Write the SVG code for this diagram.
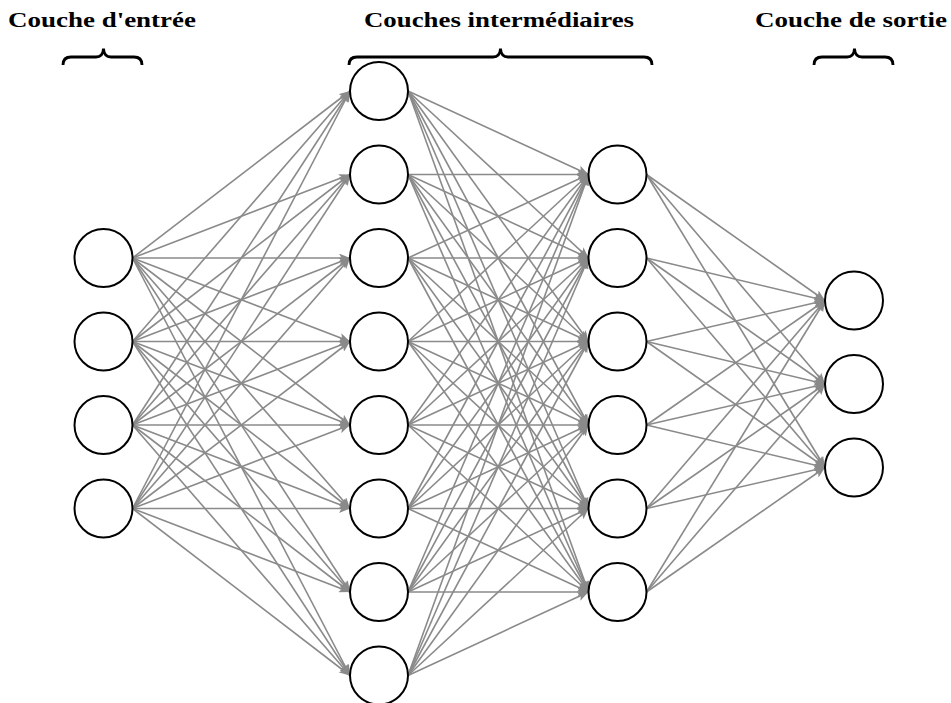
<svg xmlns="http://www.w3.org/2000/svg" width="951" height="703" viewBox="0 0 951 703">
<style>
.e{stroke:#8a8a8a;stroke-width:1.6;fill:none;marker-end:url(#ah)}
.n{fill:#fff;stroke:#000;stroke-width:2}
.b{fill:none;stroke:#000;stroke-width:2.8;stroke-linecap:butt}
.t{font-family:"Liberation Serif","DejaVu Serif",serif;font-weight:bold;font-size:20px;fill:#000}
</style>
<defs>
<marker id="ah" markerUnits="userSpaceOnUse" markerWidth="11" markerHeight="9" refX="11" refY="4.5" orient="auto">
<path d="M0,0 L11,4.5 L0,9 L2.5,4.5 z" fill="#8a8a8a"/>
</marker>
</defs>
<rect width="951" height="703" fill="#fff"/>
<g id="labels">
<text class="t" x="8" y="27" textLength="188" lengthAdjust="spacingAndGlyphs">Couche d'entrée</text>
<text class="t" x="364" y="27" textLength="270" lengthAdjust="spacingAndGlyphs">Couches intermédiaires</text>
<text class="t" x="755" y="27" textLength="192" lengthAdjust="spacingAndGlyphs">Couche de sortie</text>
</g>
<g id="braces">
<path class="b" d="M63,65 Q63,57 71,57 L96,57 Q103,57 103.5,48.5 Q104,57 111,57 L134,57 Q142,57 142,65"/>
<path class="b" d="M349,65 Q349,57 357,57 L493,57 Q500,57 500.5,48.5 Q501,57 508,57 L644,57 Q652,57 652,65"/>
<path class="b" d="M814,65 Q814,57 822,57 L847,57 Q854,57 854.5,48.5 Q855,57 862,57 L885,57 Q893,57 893,65"/>
</g>
<g id="connectors">
<line class="e" x1="132.5" y1="258" x2="350" y2="91"/>
<line class="e" x1="132.5" y1="258" x2="350" y2="174.5"/>
<line class="e" x1="132.5" y1="258" x2="350" y2="258"/>
<line class="e" x1="132.5" y1="258" x2="350" y2="341.5"/>
<line class="e" x1="132.5" y1="258" x2="350" y2="425"/>
<line class="e" x1="132.5" y1="258" x2="350" y2="508.5"/>
<line class="e" x1="132.5" y1="258" x2="350" y2="592"/>
<line class="e" x1="132.5" y1="258" x2="350" y2="675.5"/>
<line class="e" x1="132.5" y1="341.5" x2="350" y2="91"/>
<line class="e" x1="132.5" y1="341.5" x2="350" y2="174.5"/>
<line class="e" x1="132.5" y1="341.5" x2="350" y2="258"/>
<line class="e" x1="132.5" y1="341.5" x2="350" y2="341.5"/>
<line class="e" x1="132.5" y1="341.5" x2="350" y2="425"/>
<line class="e" x1="132.5" y1="341.5" x2="350" y2="508.5"/>
<line class="e" x1="132.5" y1="341.5" x2="350" y2="592"/>
<line class="e" x1="132.5" y1="341.5" x2="350" y2="675.5"/>
<line class="e" x1="132.5" y1="425" x2="350" y2="91"/>
<line class="e" x1="132.5" y1="425" x2="350" y2="174.5"/>
<line class="e" x1="132.5" y1="425" x2="350" y2="258"/>
<line class="e" x1="132.5" y1="425" x2="350" y2="341.5"/>
<line class="e" x1="132.5" y1="425" x2="350" y2="425"/>
<line class="e" x1="132.5" y1="425" x2="350" y2="508.5"/>
<line class="e" x1="132.5" y1="425" x2="350" y2="592"/>
<line class="e" x1="132.5" y1="425" x2="350" y2="675.5"/>
<line class="e" x1="132.5" y1="508.5" x2="350" y2="91"/>
<line class="e" x1="132.5" y1="508.5" x2="350" y2="174.5"/>
<line class="e" x1="132.5" y1="508.5" x2="350" y2="258"/>
<line class="e" x1="132.5" y1="508.5" x2="350" y2="341.5"/>
<line class="e" x1="132.5" y1="508.5" x2="350" y2="425"/>
<line class="e" x1="132.5" y1="508.5" x2="350" y2="508.5"/>
<line class="e" x1="132.5" y1="508.5" x2="350" y2="592"/>
<line class="e" x1="132.5" y1="508.5" x2="350" y2="675.5"/>

<line class="e" x1="408" y1="91" x2="588.5" y2="174.5"/>
<line class="e" x1="408" y1="91" x2="588.5" y2="258"/>
<line class="e" x1="408" y1="91" x2="588.5" y2="341.5"/>
<line class="e" x1="408" y1="91" x2="588.5" y2="425"/>
<line class="e" x1="408" y1="91" x2="588.5" y2="508.5"/>
<line class="e" x1="408" y1="91" x2="588.5" y2="592"/>
<line class="e" x1="408" y1="174.5" x2="588.5" y2="174.5"/>
<line class="e" x1="408" y1="174.5" x2="588.5" y2="258"/>
<line class="e" x1="408" y1="174.5" x2="588.5" y2="341.5"/>
<line class="e" x1="408" y1="174.5" x2="588.5" y2="425"/>
<line class="e" x1="408" y1="174.5" x2="588.5" y2="508.5"/>
<line class="e" x1="408" y1="174.5" x2="588.5" y2="592"/>
<line class="e" x1="408" y1="258" x2="588.5" y2="174.5"/>
<line class="e" x1="408" y1="258" x2="588.5" y2="258"/>
<line class="e" x1="408" y1="258" x2="588.5" y2="341.5"/>
<line class="e" x1="408" y1="258" x2="588.5" y2="425"/>
<line class="e" x1="408" y1="258" x2="588.5" y2="508.5"/>
<line class="e" x1="408" y1="258" x2="588.5" y2="592"/>
<line class="e" x1="408" y1="341.5" x2="588.5" y2="174.5"/>
<line class="e" x1="408" y1="341.5" x2="588.5" y2="258"/>
<line class="e" x1="408" y1="341.5" x2="588.5" y2="341.5"/>
<line class="e" x1="408" y1="341.5" x2="588.5" y2="425"/>
<line class="e" x1="408" y1="341.5" x2="588.5" y2="508.5"/>
<line class="e" x1="408" y1="341.5" x2="588.5" y2="592"/>
<line class="e" x1="408" y1="425" x2="588.5" y2="174.5"/>
<line class="e" x1="408" y1="425" x2="588.5" y2="258"/>
<line class="e" x1="408" y1="425" x2="588.5" y2="341.5"/>
<line class="e" x1="408" y1="425" x2="588.5" y2="425"/>
<line class="e" x1="408" y1="425" x2="588.5" y2="508.5"/>
<line class="e" x1="408" y1="425" x2="588.5" y2="592"/>
<line class="e" x1="408" y1="508.5" x2="588.5" y2="174.5"/>
<line class="e" x1="408" y1="508.5" x2="588.5" y2="258"/>
<line class="e" x1="408" y1="508.5" x2="588.5" y2="341.5"/>
<line class="e" x1="408" y1="508.5" x2="588.5" y2="425"/>
<line class="e" x1="408" y1="508.5" x2="588.5" y2="508.5"/>
<line class="e" x1="408" y1="508.5" x2="588.5" y2="592"/>
<line class="e" x1="408" y1="592" x2="588.5" y2="174.5"/>
<line class="e" x1="408" y1="592" x2="588.5" y2="258"/>
<line class="e" x1="408" y1="592" x2="588.5" y2="341.5"/>
<line class="e" x1="408" y1="592" x2="588.5" y2="425"/>
<line class="e" x1="408" y1="592" x2="588.5" y2="508.5"/>
<line class="e" x1="408" y1="592" x2="588.5" y2="592"/>
<line class="e" x1="408" y1="675.5" x2="588.5" y2="174.5"/>
<line class="e" x1="408" y1="675.5" x2="588.5" y2="258"/>
<line class="e" x1="408" y1="675.5" x2="588.5" y2="341.5"/>
<line class="e" x1="408" y1="675.5" x2="588.5" y2="425"/>
<line class="e" x1="408" y1="675.5" x2="588.5" y2="508.5"/>
<line class="e" x1="408" y1="675.5" x2="588.5" y2="592"/>

<line class="e" x1="646.5" y1="174.5" x2="825" y2="300.5"/>
<line class="e" x1="646.5" y1="174.5" x2="825" y2="384"/>
<line class="e" x1="646.5" y1="174.5" x2="825" y2="467.5"/>
<line class="e" x1="646.5" y1="258" x2="825" y2="300.5"/>
<line class="e" x1="646.5" y1="258" x2="825" y2="384"/>
<line class="e" x1="646.5" y1="258" x2="825" y2="467.5"/>
<line class="e" x1="646.5" y1="341.5" x2="825" y2="300.5"/>
<line class="e" x1="646.5" y1="341.5" x2="825" y2="384"/>
<line class="e" x1="646.5" y1="341.5" x2="825" y2="467.5"/>
<line class="e" x1="646.5" y1="425" x2="825" y2="300.5"/>
<line class="e" x1="646.5" y1="425" x2="825" y2="384"/>
<line class="e" x1="646.5" y1="425" x2="825" y2="467.5"/>
<line class="e" x1="646.5" y1="508.5" x2="825" y2="300.5"/>
<line class="e" x1="646.5" y1="508.5" x2="825" y2="384"/>
<line class="e" x1="646.5" y1="508.5" x2="825" y2="467.5"/>
<line class="e" x1="646.5" y1="592" x2="825" y2="300.5"/>
<line class="e" x1="646.5" y1="592" x2="825" y2="384"/>
<line class="e" x1="646.5" y1="592" x2="825" y2="467.5"/>
</g>
<g id="input">
<circle id="i1" class="n" cx="103.5" cy="258" r="29"/>
<circle id="i2" class="n" cx="103.5" cy="341.5" r="29"/>
<circle id="i3" class="n" cx="103.5" cy="425" r="29"/>
<circle id="i4" class="n" cx="103.5" cy="508.5" r="29"/>
</g>
<g id="hidden1">
<circle id="h1_1" class="n" cx="379" cy="91" r="29"/>
<circle id="h1_2" class="n" cx="379" cy="174.5" r="29"/>
<circle id="h1_3" class="n" cx="379" cy="258" r="29"/>
<circle id="h1_4" class="n" cx="379" cy="341.5" r="29"/>
<circle id="h1_5" class="n" cx="379" cy="425" r="29"/>
<circle id="h1_6" class="n" cx="379" cy="508.5" r="29"/>
<circle id="h1_7" class="n" cx="379" cy="592" r="29"/>
<circle id="h1_8" class="n" cx="379" cy="675.5" r="29"/>
</g>
<g id="hidden2">
<circle id="h2_1" class="n" cx="617.5" cy="174.5" r="29"/>
<circle id="h2_2" class="n" cx="617.5" cy="258" r="29"/>
<circle id="h2_3" class="n" cx="617.5" cy="341.5" r="29"/>
<circle id="h2_4" class="n" cx="617.5" cy="425" r="29"/>
<circle id="h2_5" class="n" cx="617.5" cy="508.5" r="29"/>
<circle id="h2_6" class="n" cx="617.5" cy="592" r="29"/>
</g>
<g id="output">
<circle id="o1" class="n" cx="854" cy="300.5" r="29"/>
<circle id="o2" class="n" cx="854" cy="384" r="29"/>
<circle id="o3" class="n" cx="854" cy="467.5" r="29"/>
</g>
</svg>
